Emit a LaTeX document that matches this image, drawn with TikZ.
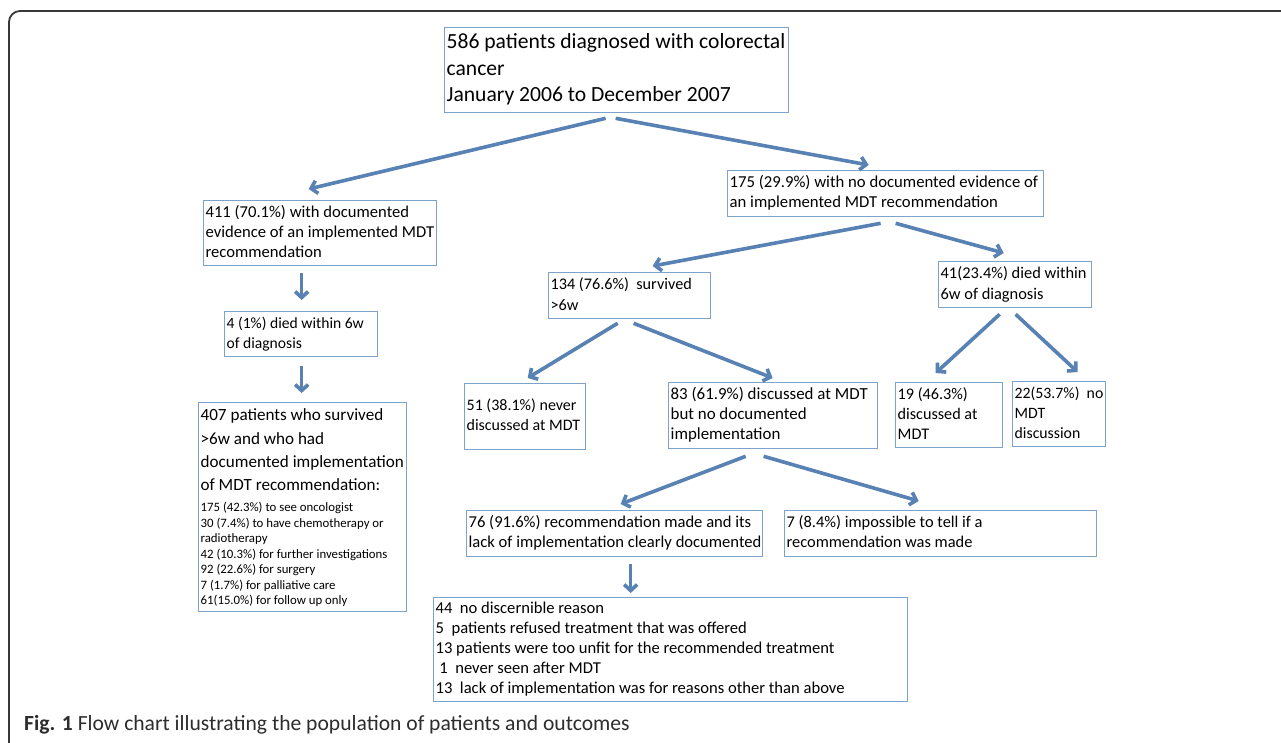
\documentclass[tikz,border=0pt]{standalone}
\usepackage{fontspec}
\setmainfont{Carlito}
\usetikzlibrary{arrows.meta,calc}
\definecolor{arrowblue}{RGB}{88,129,180}
\definecolor{boxblue}{RGB}{125,163,204}
\definecolor{framegray}{RGB}{55,55,55}
\definecolor{captiongray}{RGB}{45,45,45}
\newcommand{\boxtext}[1]{\rlap{\spaceskip=0pt\xspaceskip=0pt\begin{tabular}[t]{@{}l@{}}#1\end{tabular}}}
\begin{document}
\begin{tikzpicture}[x=1pt,y=-1pt,
  box/.style={draw=boxblue, line width=1.3pt, anchor=north west, inner sep=2pt,
    align=left, font=\fontsize{16.2}{20}\selectfont, text=black},
  arr/.style={draw=arrowblue, line width=3.6pt, -{Straight Barb[length=6pt,width=13pt]}}
]
\useasboundingbox (0,0) rectangle (1281,742);
\clip (0,0) rectangle (1281,742);
\fill[white] (0,0) rectangle (1281,742);
% frame
\draw[framegray, line width=1.8pt, rounded corners=11pt] (9,760) -- (9,11) -- (1300,11);

% boxes
\node[box, minimum width=344pt, minimum height=85pt, text width=340pt,
  font=\fontsize{21.6}{26.5}\selectfont] (top) at (444,27)
  {\boxtext{586 patients diagnosed with colorectal\\cancer\\January 2006 to December 2007}};
\node[box, minimum width=233pt, minimum height=65pt, text width=229pt, font=\fontsize{16.6}{20}\selectfont] (n411) at (203,200)
  {\boxtext{411 (70.1\%) with documented\\evidence of an implemented MDT\\recommendation}};
\node[box, minimum width=153pt, minimum height=45pt, text width=149pt, font=\fontsize{15.6}{20}\selectfont] (n4) at (224,311)
  {\boxtext{4 (1\%) died within 6w\\of diagnosis}};
\node[box, minimum width=208pt, minimum height=203pt, text width=204pt] (n407) at (198,402)
  {{\fontsize{17.1}{23.2}\selectfont\boxtext{407 patients who survived\\>6w and who had\\documented implementation\\of MDT recommendation:}\par}
   \vspace{2.5pt}
   {\fontsize{12.8}{15.5}\selectfont\boxtext{175 (42.3\%) to see oncologist\\30 (7.4\%) to have chemotherapy or\\radiotherapy\\42 (10.3\%) for further investigations\\92 (22.6\%) for surgery\\7 (1.7\%) for palliative care\\61(15.0\%) for follow up only}\par}};
\node[box, minimum width=316pt, minimum height=46pt, text width=312pt, font=\fontsize{16.7}{20}\selectfont] (n175) at (727,170)
  {\boxtext{175 (29.9\%) with no documented evidence of\\an implemented MDT recommendation}};
\node[box, minimum width=162pt, minimum height=46pt, text width=158pt, font=\fontsize{16.2}{20.5}\selectfont] (n134) at (548,272)
  {\boxtext{134 (76.6\%)\ \ survived\\>6w}};
\node[box, minimum width=153pt, minimum height=46pt, text width=149pt, font=\fontsize{16.4}{20.5}\selectfont] (n41) at (938,261)
  {\boxtext{41(23.4\%) died within\\6w of diagnosis}};
\node[box, minimum width=121pt, minimum height=66pt, text width=117pt, font=\fontsize{16}{20}\selectfont] (n51) at (464,383)
  {\boxtext{51 (38.1\%) never\\discussed at MDT}};
\node[box, minimum width=209pt, minimum height=66pt, text width=205pt, font=\fontsize{16.9}{20}\selectfont] (n83) at (668,382)
  {\boxtext{83 (61.9\%) discussed at MDT\\but no documented\\implementation}};
\node[box, minimum width=107pt, minimum height=65pt, text width=103pt] (n19) at (895,382)
  {\boxtext{19 (46.3\%)\\discussed at\\MDT}};
\node[box, minimum width=93pt, minimum height=65pt, text width=89pt, font=\fontsize{15.8}{20}\selectfont] (n22) at (1012,381)
  {\boxtext{22(53.7\%)\ \ no\\MDT\\discussion}};
\node[box, minimum width=296pt, minimum height=46pt, text width=292pt, font=\fontsize{16.6}{20}\selectfont] (n76) at (466,510)
  {\boxtext{76 (91.6\%) recommendation made and its\\lack of implementation clearly documented}};
\node[box, minimum width=312pt, minimum height=46pt, text width=308pt, font=\fontsize{16.4}{20}\selectfont] (n7) at (784,510)
  {\boxtext{7 (8.4\%) impossible to tell if a\\recommendation was made}};
\node[box, minimum width=474pt, minimum height=101pt, text width=470pt, font=\fontsize{16.6}{20}\selectfont] (nbot) at (433,597)
  {\boxtext{44\ \ no discernible reason\\5\ \ patients refused treatment that was offered\\13 patients were too unfit for the recommended treatment\\\ 1\ \ never seen after MDT\\13\ \ lack of implementation was for reasons other than above}};

% arrows
\draw[arr] ($(top.south)+(-11,5)$) -- ($(n411.north)+(-11.5,-11)$);
\draw[arr] ($(top.south)+(-1,5)$) -- ($(n175.north)+(-17,-5)$);
\draw[arr] ($(n411.south)+(-18.5,7)$) -- ($(n4.north)+(0.5,-11)$);
\draw[arr] ($(n4.south)+(0.5,9)$) -- ($(n407.north)+(-1,-9)$);
\draw[arr] ($(n175.south)+(-5,6)$) -- ($(n134.north)+(23,-6)$);
\draw[arr] ($(n175.south)+(10,6)$) -- ($(n41.north)+(-11.5,-8)$);
\draw[arr] ($(n134.south)+(-12,4)$) -- ($(n51.north)+(2.5,-5)$);
\draw[arr] ($(n134.south)+(4,4)$) -- ($(n83.north)+(-0.5,-4)$);
\draw[arr] ($(n41.south)+(-15.5,6)$) -- ($(n19.north)+(-13.5,-9)$);
\draw[arr] ($(n41.south)+(0.5,6)$) -- ($(n22.north)+(18.5,-9)$);
\draw[arr] ($(n83.south)+(-27.5,7)$) -- ($(n76.north)+(6,-6)$);
\draw[arr] ($(n83.south)+(-9.5,7)$) -- ($(n7.north)+(-22,-9)$);
\draw[arr] ($(n76.south)+(16,7)$) -- ($(nbot.north)+(-40,-4)$);

% caption
\node[anchor=west, inner sep=0pt, text=captiongray, font=\fontsize{21.6}{24}\selectfont] (cap) at (24,725)
  {\textbf{Fig. 1} Flow chart illustrating the population of patients and outcomes};
\end{tikzpicture}
\end{document}
